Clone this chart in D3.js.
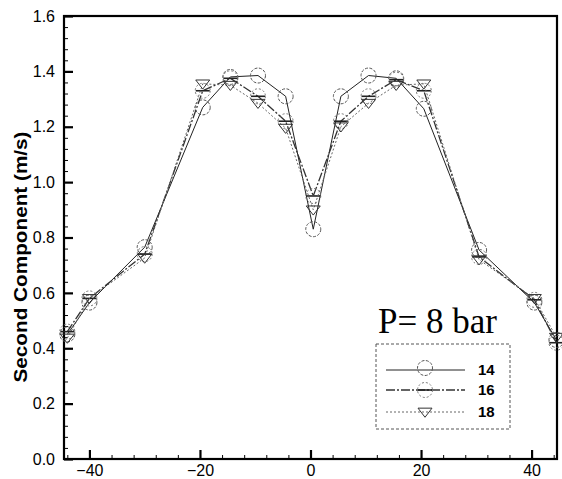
<!DOCTYPE html>
<html><head><meta charset="utf-8">
<script src="https://cdn.jsdelivr.net/npm/d3@7"></script>
<style>body{margin:0;background:#fff}svg{display:block}</style>
</head><body>
<script>
const xValues = [-44, -40, -30, -19.5, -14.5, -9.5, -4.5, 0.5, 5.5, 10.5, 15.5, 20.5, 30.5, 40.5, 44.5];
const series14 = [0.45, 0.565, 0.765, 1.27, 1.38, 1.385, 1.31, 0.83, 1.31, 1.385, 1.375, 1.265, 0.755, 0.565, 0.43];
const series16 = [0.46, 0.58, 0.74, 1.33, 1.375, 1.31, 1.22, 0.95, 1.22, 1.31, 1.37, 1.33, 0.73, 0.575, 0.42];
const series18 = [0.437, 0.58, 0.726, 1.355, 1.35, 1.285, 1.195, 0.9, 1.2, 1.285, 1.35, 1.355, 0.72, 0.58, 0.44];
const seriesNames = ["14", "16", "18"];
const xTicks = [-40, -20, 0, 20, 40];
const yTicks = [0.0, 0.2, 0.4, 0.6, 0.8, 1.0, 1.2, 1.4, 1.6];
const yTitle = "Second Component (m/s)";
const annotation = "P= 8 bar";

const W = 562, H = 479;
const svg = d3.select("body").append("svg").attr("width", W).attr("height", H);
const x = d3.scaleLinear().domain([-44.6, 44.6]).range([64, 557]);
const y = d3.scaleLinear().domain([0, 1.6]).range([459, 16]);

const xMinor = d3.range(-44, 45, 4).filter(v => !xTicks.includes(v));
const yMinor = d3.range(0, 1.6001, 0.04).filter(v => !yTicks.some(t => Math.abs(t - v) < 1e-6));

const gx = svg.append("g").attr("transform", `translate(0,${y(0)})`)
  .call(d3.axisBottom(x).tickValues(xTicks).tickSizeInner(-9).tickSizeOuter(0).tickPadding(6).tickFormat(d3.format("d")));
gx.selectAll("line").attr("stroke-width", 2.2);
gx.select(".domain").remove();
gx.selectAll("text").attr("font-family", "Liberation Sans, Arial, sans-serif").attr("font-size", 16).attr("fill", "#000");

const gxm = svg.append("g").attr("transform", `translate(0,${y(0)})`)
  .call(d3.axisBottom(x).tickValues(xMinor).tickSizeInner(-4).tickSizeOuter(0).tickFormat(""));
gxm.select(".domain").remove();
gxm.selectAll("line").attr("stroke-width", 1);

const gy = svg.append("g").attr("transform", `translate(${x.range()[0]},0)`)
  .call(d3.axisLeft(y).tickValues(yTicks).tickSizeInner(-9).tickSizeOuter(0).tickPadding(9).tickFormat(d3.format(".1f")));
gy.selectAll("line").attr("stroke-width", 2.2);
gy.select(".domain").remove();
gy.selectAll("text").attr("font-family", "Liberation Sans, Arial, sans-serif").attr("font-size", 16).attr("fill", "#000");

const gym = svg.append("g").attr("transform", `translate(${x.range()[0]},0)`)
  .call(d3.axisLeft(y).tickValues(yMinor).tickSizeInner(-4).tickSizeOuter(0).tickFormat(""));
gym.select(".domain").remove();
gym.selectAll("line").attr("stroke-width", 1);

svg.append("rect").attr("x", x.range()[0]).attr("y", y(1.6)).attr("width", x.range()[1] - x.range()[0]).attr("height", y(0) - y(1.6))
  .attr("fill", "none").attr("stroke", "#000").attr("stroke-width", 2.2);

svg.append("text").attr("transform", `translate(27,257) rotate(-90)`).attr("text-anchor", "middle")
  .attr("font-family", "Liberation Sans, Arial, sans-serif").attr("font-weight", "bold").attr("font-size", 18)
  .attr("textLength", 251).attr("lengthAdjust", "spacingAndGlyphs").text(yTitle);

const styles = [
  {data: series14, line: "#222", width: 1, dash: null, marker: "circle"},
  {data: series16, line: "#333", width: 1.3, dash: "9,2,2,2", marker: "circle2"},
  {data: series18, line: "#666", width: 1, dash: "2,2", marker: "tri"}
];

const lineGen = d3.line().x(d => x(d[0])).y(d => y(d[1]));

function drawMarker(g, type, cx, cy) {
  if (type === "circle" || type === "circle2") {
    g.append("circle").attr("cx", cx).attr("cy", cy).attr("r", 7.5).attr("fill", "none")
      .attr("stroke", type === "circle" ? "#555" : "#777").attr("stroke-width", 1)
      .attr("stroke-dasharray", type === "circle" ? "3,1.5" : "2,2");
    if (type === "circle2") {
      g.append("line").attr("x1", cx - 7).attr("x2", cx + 7).attr("y1", cy).attr("y2", cy)
        .attr("stroke", "#222").attr("stroke-width", 1.6);
    }
  } else {
    const s = 7;
    g.append("path").attr("d", `M${cx - s},${cy - s * 0.55}L${cx + s},${cy - s * 0.55}L${cx},${cy + s * 0.75}Z`)
      .attr("fill", "none").attr("stroke", "#333").attr("stroke-width", 1);
  }
}

styles.forEach(st => {
  const pts = xValues.map((v, i) => [v, st.data[i]]);
  svg.append("path").datum(pts).attr("d", lineGen).attr("fill", "none")
    .attr("stroke", st.line).attr("stroke-width", st.width).attr("stroke-dasharray", st.dash);
  const g = svg.append("g");
  pts.forEach(p => drawMarker(g, st.marker, x(p[0]), y(p[1])));
});

svg.append("text").attr("x", 378).attr("y", 333).attr("font-family", "Liberation Serif, Times New Roman, serif")
  .attr("font-size", 35).attr("fill", "#000").text(annotation);

svg.append("rect").attr("x", 376).attr("y", 344).attr("width", 134).attr("height", 85)
  .attr("fill", "#fff").attr("stroke", "#555").attr("stroke-width", 1).attr("stroke-dasharray", "3,2");
const legendY = [370, 390, 412];
styles.forEach((st, i) => {
  svg.append("line").attr("x1", 386).attr("x2", 465).attr("y1", legendY[i]).attr("y2", legendY[i])
    .attr("stroke", st.line).attr("stroke-width", st.width).attr("stroke-dasharray", st.dash);
  drawMarker(svg.append("g"), st.marker, 425, legendY[i] - (i === 0 ? 2 : 0));
  svg.append("text").attr("x", 478).attr("y", legendY[i] + 5).attr("font-family", "Liberation Sans, Arial, sans-serif")
    .attr("font-weight", "bold").attr("font-size", 15).attr("fill", "#000").text(seriesNames[i]);
});
</script>
</body></html>
